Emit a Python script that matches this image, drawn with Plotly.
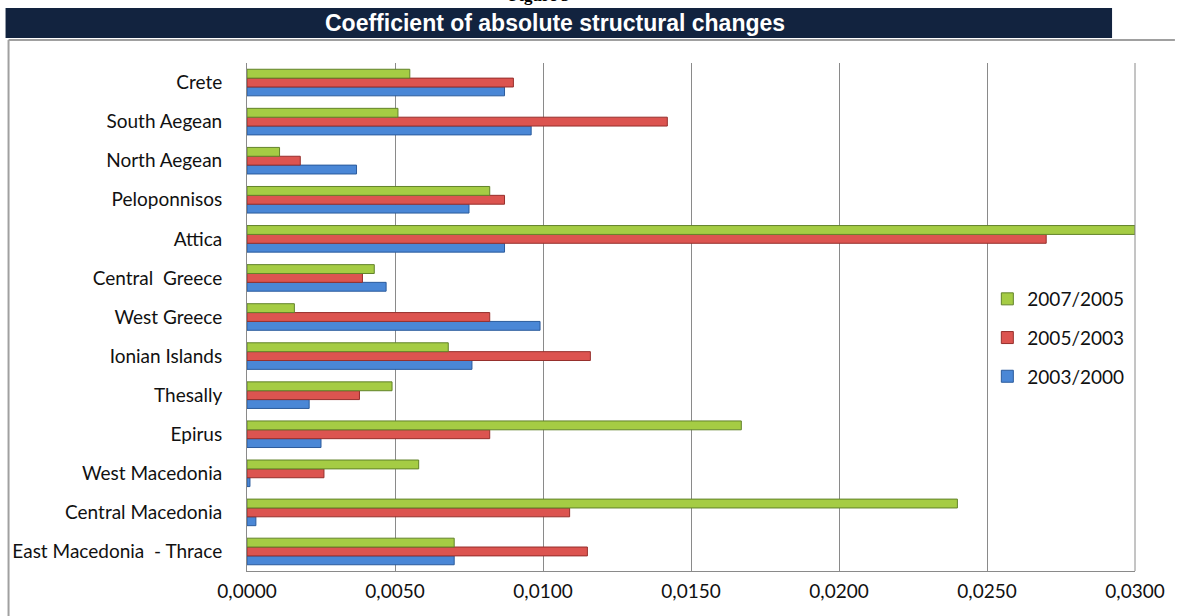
import plotly.graph_objects as go

# Categories listed bottom-to-top (as plotted on the y axis)
regions = [
    "East Macedonia  - Thrace", "Central Macedonia", "West Macedonia", "Epirus",
    "Thesally", "Ionian Islands", "West Greece", "Central  Greece", "Attica",
    "Peloponnisos", "North Aegean", "South Aegean", "Crete",
]
s_2003_2000 = [0.0070, 0.0003, 0.0001, 0.0025, 0.0021, 0.0076, 0.0099, 0.0047, 0.0087, 0.0075, 0.0037, 0.0096, 0.0087]
s_2005_2003 = [0.0115, 0.0109, 0.0026, 0.0082, 0.0038, 0.0116, 0.0082, 0.0039, 0.0270, 0.0087, 0.0018, 0.0142, 0.0090]
s_2007_2005 = [0.0070, 0.0240, 0.0058, 0.0167, 0.0049, 0.0068, 0.0016, 0.0043, 0.0300, 0.0082, 0.0011, 0.0051, 0.0055]

series_names = ["2003/2000", "2005/2003", "2007/2005"]
legend_ranks = [3, 2, 1]
x_tickvals = [0, 0.005, 0.01, 0.015, 0.02, 0.025, 0.03]
x_ticktext = ["0,0000", "0,0050", "0,0100", "0,0150", "0,0200", "0,0250", "0,0300"]

title_text = "Coefficient of absolute structural changes"
fig_label = "Figure 3"

colors = ["#4a87d6", "#dc5450", "#a5cc44"]
edges = ["#2b5b9c", "#962f2c", "#62832a"]

W, H = 1177, 616
L, R, T, B = 247, 40, 63, 45
pw, ph = W - L - R, H - T - B

def px(x):
    return (x - L) / pw

def py(y):
    return (H - B - y) / ph

fig = go.Figure()
for name, vals, c, e, rk in zip(series_names, [s_2003_2000, s_2005_2003, s_2007_2005], colors, edges, legend_ranks):
    fig.add_trace(go.Bar(
        y=regions, x=vals, name=name, orientation="h",
        marker=dict(color=c, line=dict(color=e, width=1)),
        legendgroup=name, legendrank=rk,
    ))

fig.update_layout(
    width=W, height=H,
    margin=dict(l=L, r=R, t=T, b=B),
    paper_bgcolor="white", plot_bgcolor="white",
    barmode="group", bargap=0.32, bargroupgap=0.0,
    font=dict(family="Lato, sans-serif", color="#111111"),
    showlegend=True,
    legend=dict(
        x=px(989), y=py(280), xanchor="left", yanchor="top",
        traceorder="grouped", tracegroupgap=11,
        font=dict(family="Lato, sans-serif", size=19, color="#111111"),
        bgcolor="rgba(0,0,0,0)", itemwidth=30,
    ),
    xaxis=dict(
        range=[0, 0.03], tickvals=x_tickvals, ticktext=x_ticktext,
        showgrid=True, gridcolor="#8a8a8a", gridwidth=1,
        showline=True, linecolor="#8a8a8a", linewidth=1,
        zeroline=False, ticks="", ticklabelstandoff=3,
        tickfont=dict(family="Lato, sans-serif", size=19, color="#111111"),
        fixedrange=True,
    ),
    yaxis=dict(
        showgrid=False, showline=True, linecolor="#8a8a8a", linewidth=1,
        ticks="", ticklabelstandoff=20,
        tickfont=dict(family="Lato, sans-serif", size=19, color="#111111"),
        fixedrange=True,
    ),
    shapes=[
        dict(type="rect", xref="paper", yref="paper",
             x0=px(5), x1=px(1114), y0=py(38), y1=py(8),
             fillcolor="#12233f", line=dict(width=0), layer="above"),
        dict(type="line", xref="paper", yref="paper",
             x0=px(8), x1=px(1177), y0=py(40), y1=py(40),
             line=dict(color="#a0a0a0", width=2)),
        dict(type="line", xref="paper", yref="paper",
             x0=px(8), x1=px(8), y0=py(40), y1=py(616),
             line=dict(color="#a0a0a0", width=2)),
        dict(type="line", xref="paper", yref="paper",
             x0=1, x1=1, y0=0, y1=1,
             line=dict(color="#8a8a8a", width=1)),
    ],
    annotations=[
        dict(text="<b>" + title_text + "</b>", xref="paper", yref="paper",
             x=px(556), y=py(23), xanchor="center", yanchor="middle",
             showarrow=False,
             font=dict(family="Liberation Sans, Arial, sans-serif", size=23, color="white")),
        dict(text="<b>" + fig_label + "</b>", xref="paper", yref="paper",
             x=px(540), y=py(7), xanchor="center", yanchor="bottom",
             showarrow=False,
             font=dict(family="Liberation Serif, Times New Roman, serif", size=17, color="black")),
    ],
)

fig.write_html(
    "out.html",
    config={"displayModeBar": False},
    post_script="document.body.style.margin='0';document.body.style.overflow='hidden';",
)
